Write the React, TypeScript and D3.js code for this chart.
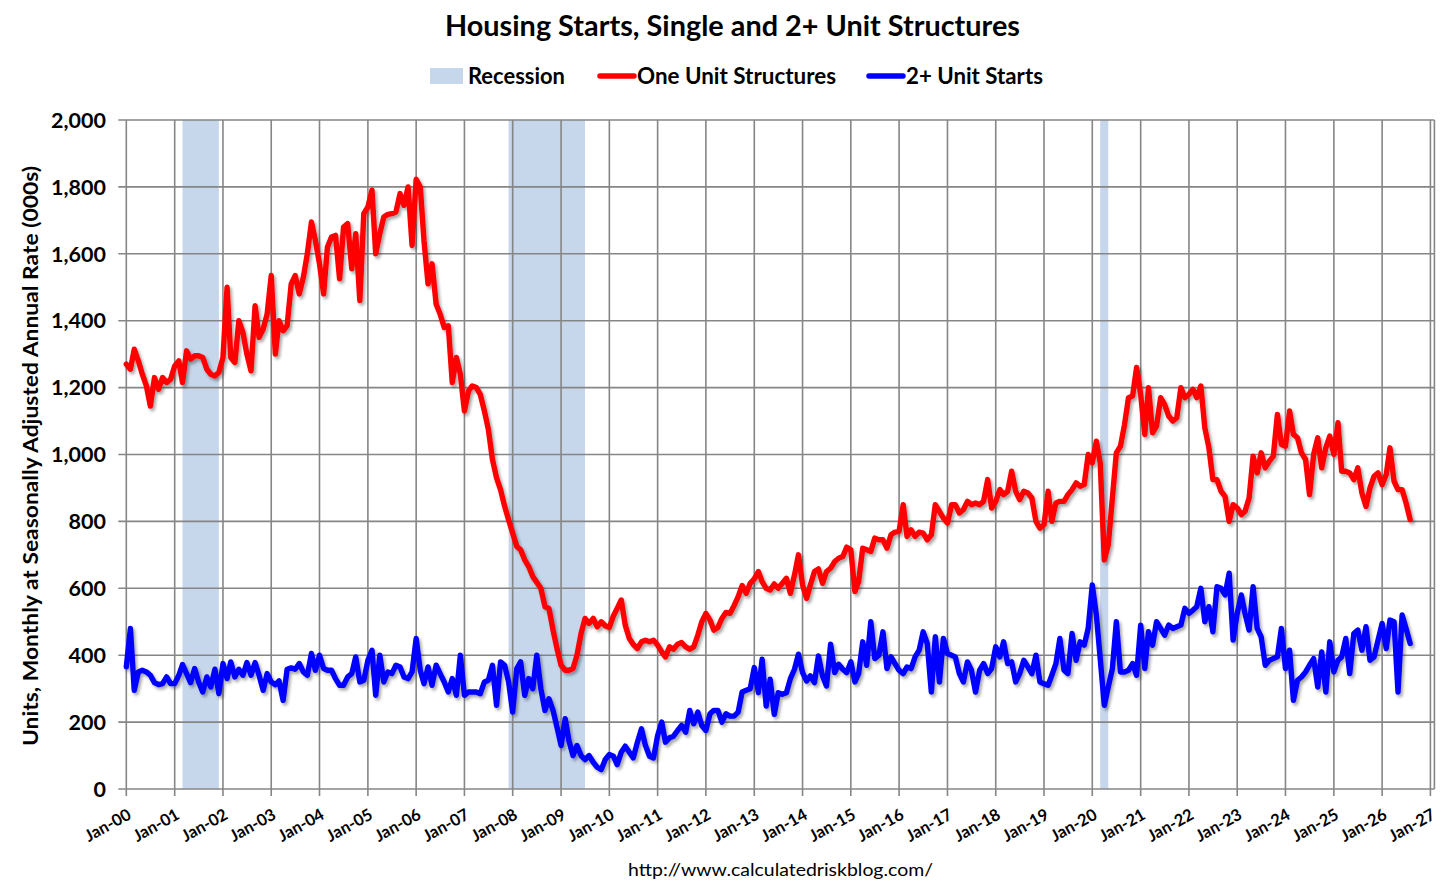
import { useEffect, useRef } from 'react';
import * as d3 from 'd3';

// Monthly, SAAR (000s), Jan 2000 onwards
const oneUnit: number[] = [
  // 2000
  1270, 1255, 1315, 1280, 1240, 1205, 1145, 1230, 1195, 1230, 1215, 1225,
  // 2001
  1265, 1280, 1215, 1310, 1285, 1295, 1295, 1290, 1255, 1240, 1235, 1245,
  // 2002
  1290, 1500, 1290, 1275, 1400, 1365, 1300, 1250, 1445, 1350, 1375, 1420,
  // 2003
  1535, 1300, 1400, 1370, 1385, 1510, 1535, 1480, 1530, 1600, 1695, 1640,
  // 2004
  1570, 1480, 1620, 1650, 1655, 1525, 1680, 1690, 1555, 1660, 1460, 1720,
  // 2005
  1740, 1790, 1600, 1660, 1710, 1718, 1720, 1725, 1780, 1745, 1800, 1625,
  // 2006
  1823, 1800, 1640, 1510, 1570, 1450, 1420, 1380, 1385, 1215, 1290, 1240,
  // 2007
  1130, 1190, 1205, 1200, 1180, 1130, 1075, 985, 930, 895, 845, 805,
  // 2008
  765, 725, 715, 685, 665, 635, 618, 600, 545, 540, 475, 420,
  // 2009
  370, 355, 355, 360, 400, 465, 510, 495, 510, 485, 500, 488,
  // 2010
  483, 518, 540, 565, 490, 450, 432, 420, 440, 445, 440, 445,
  // 2011
  430, 410, 395, 425, 418, 433, 438, 425, 418, 425, 460, 500,
  // 2012
  525, 505, 475, 483, 510, 528, 525, 548, 575, 608, 585, 615,
  // 2013
  628, 650, 620, 600, 595, 613, 600, 615, 630, 585, 640, 700,
  // 2014
  610, 570, 610, 650, 658, 615, 650, 660, 680, 690, 695, 723,
  // 2015
  715, 590, 620, 720, 715, 710, 750, 745, 745, 720, 760, 768,
  // 2016
  770, 850, 755, 775, 755, 768, 765, 745, 760, 850, 830, 810,
  // 2017
  795, 850, 850, 825, 835, 860, 850, 855, 850, 860, 925, 840,
  // 2018
  860, 895, 880, 890, 950, 890, 865, 890, 885, 870, 800, 780,
  // 2019
  790, 890, 800, 855, 860, 860, 880, 895, 915, 905, 910, 1000,
  // 2020
  975, 1040, 975, 685, 730, 870, 1005, 1025, 1090, 1170, 1175, 1260,
  // 2021
  1180, 1060, 1200, 1065, 1085, 1170, 1150, 1115, 1100, 1110, 1200, 1170,
  // 2022
  1180, 1195, 1170, 1205, 1080, 1020, 925, 925, 890, 875, 800, 850,
  // 2023
  840, 820, 830, 870, 995, 945, 1005, 960, 980, 995, 1120, 1030,
  // 2024
  1025, 1130, 1060, 1050, 1005, 985, 880, 1000, 1050, 960, 1020, 1055,
  // 2025
  1000, 1095, 950, 950, 945, 925, 960, 885, 845, 900, 935, 945,
  // 2026
  910, 940, 1020, 920, 895, 895, 855, 805,
];

const twoPlus: number[] = [
  // 2000
  365, 480, 295, 350, 355, 350, 340, 318, 312, 315, 335, 315,
  // 2001
  315, 340, 372, 345, 318, 360, 320, 290, 335, 305, 358, 285,
  // 2002
  375, 330, 380, 335, 358, 340, 378, 340, 378, 340, 295, 345,
  // 2003
  320, 312, 323, 265, 358, 362, 358, 375, 350, 340, 405, 355,
  // 2004
  400, 360, 355, 355, 330, 310, 310, 335, 345, 395, 320, 325,
  // 2005
  385, 415, 280, 400, 320, 350, 345, 370, 365, 335, 330, 350,
  // 2006
  450, 355, 315, 365, 310, 370, 345, 320, 290, 330, 280, 400,
  // 2007
  280, 290, 290, 290, 285, 320, 325, 370, 250, 380, 370, 320,
  // 2008
  230, 360, 380, 280, 330, 300, 400, 300, 235, 270, 235, 185,
  // 2009
  130, 210, 145, 100, 130, 100, 88, 100, 80, 65, 58, 88,
  // 2010
  103, 98, 73, 110, 128, 110, 93, 140, 180, 130, 98, 93,
  // 2011
  160, 200, 140, 153, 158, 175, 190, 170, 235, 195, 230, 190,
  // 2012
  175, 225, 235, 235, 200, 225, 218, 218, 230, 290, 295, 300,
  // 2013
  363, 288, 388, 248, 328, 223, 288, 283, 288, 330, 358, 403,
  // 2014
  348, 323, 338, 318, 398, 338, 308, 433, 348, 373, 358, 348,
  // 2015
  380, 320, 345, 440, 370, 500, 390, 400, 470, 360, 395, 375,
  // 2016
  355, 345, 365, 360, 395, 415, 470, 435, 290, 455, 320, 450,
  // 2017
  405, 400, 395, 345, 320, 380, 355, 290, 355, 375, 345, 360,
  // 2018
  425, 395, 440, 375, 380, 320, 345, 385, 365, 345, 400, 320,
  // 2019
  315, 310, 340, 375, 450, 355, 345, 465, 385, 440, 430, 480,
  // 2020
  610, 520, 390, 250, 305, 360, 500, 350, 350, 355, 375, 340,
  // 2021
  490, 360, 470, 430, 500, 480, 460, 490, 480, 485, 490, 540,
  // 2022
  525, 535, 545, 600, 500, 545, 470, 605, 600, 580, 645, 445,
  // 2023
  525, 580, 525, 475, 605, 480, 455, 370, 385, 390, 395, 480,
  // 2024
  360, 415, 265, 325, 335, 350, 370, 390, 305, 410, 290, 440,
  // 2025
  350, 385, 395, 450, 345, 465, 475, 415, 485, 385, 395, 445,
  // 2026
  495, 420, 505, 500, 290, 520, 480, 435,
];

// recession periods [start, end) as yyyy-mm
const recessions: [string, string][] = [
  ['2001-03', '2001-12'],
  ['2007-12', '2009-07'],
  ['2020-03', '2020-05'],
];

const yTicks = [0, 200, 400, 600, 800, 1000, 1200, 1400, 1600, 1800, 2000];
const firstYear = 2000;
const lastYear = 2027;

const FONT = 'Lato, "Open Sans", "DejaVu Sans", sans-serif';

export default function App() {
  const svgRef = useRef<SVGSVGElement>(null);

  useEffect(() => {
    document.body.style.margin = '0';
    if (!svgRef.current) return;

    const W = 1456;
    const H = 886;
    const left = 126.3;
    const right = 1430.4;
    const top = 120;
    const bottom = 789;

    const svg = d3.select(svgRef.current);
    svg.selectAll('*').remove();
    svg.attr('width', W).attr('height', H);

    const parse = d3.timeParse('%Y-%m');
    const x = d3
      .scaleTime()
      .domain([new Date(firstYear, 0, 1), new Date(lastYear, 0, 1)])
      .range([left, right]);
    const y = d3.scaleLinear().domain([0, 2000]).range([bottom, top]);

    const defs = svg.append('defs');
    const f = defs
      .append('filter')
      .attr('id', 'shadow')
      .attr('x', '-5%')
      .attr('y', '-5%')
      .attr('width', '110%')
      .attr('height', '110%');
    f.append('feDropShadow')
      .attr('dx', 2)
      .attr('dy', 2.5)
      .attr('stdDeviation', 1.4)
      .attr('flood-color', '#000')
      .attr('flood-opacity', 0.35);

    // recession bars
    svg
      .append('g')
      .selectAll('rect')
      .data(recessions)
      .enter()
      .append('rect')
      .attr('x', (d) => x(parse(d[0]) as Date))
      .attr('width', (d) => x(parse(d[1]) as Date) - x(parse(d[0]) as Date))
      .attr('y', top)
      .attr('height', bottom - top)
      .attr('fill', '#c6d6eb');

    // grid
    const years = d3.range(firstYear, lastYear + 1).map((yr) => new Date(yr, 0, 1));
    const grid = svg.append('g').attr('stroke', '#868686').attr('stroke-width', 1.6);
    grid
      .selectAll('.vg')
      .data(years)
      .enter()
      .append('line')
      .attr('x1', (d) => x(d))
      .attr('x2', (d) => x(d))
      .attr('y1', top)
      .attr('y2', bottom + 7);
    grid
      .selectAll('.hg')
      .data(yTicks)
      .enter()
      .append('line')
      .attr('x1', left - 8)
      .attr('x2', right + 4)
      .attr('y1', (d) => y(d))
      .attr('y2', (d) => y(d));
    // plot border right
    grid
      .append('line')
      .attr('x1', right + 4)
      .attr('x2', right + 4)
      .attr('y1', top)
      .attr('y2', bottom);

    // series
    const dates = oneUnit.map((_, i) => new Date(firstYear, i, 1));
    const line = d3
      .line<number>()
      .x((_, i) => x(dates[i]))
      .y((d) => y(d));

    const series = [
      { values: twoPlus, color: '#0000ff' },
      { values: oneUnit, color: '#ff0000' },
    ];
    svg
      .append('g')
      .attr('filter', 'url(#shadow)')
      .selectAll('path')
      .data(series)
      .enter()
      .append('path')
      .attr('d', (d) => line(d.values))
      .attr('fill', 'none')
      .attr('stroke', (d) => d.color)
      .attr('stroke-width', 5.4)
      .attr('stroke-linejoin', 'round')
      .attr('stroke-linecap', 'round');

    // y labels
    svg
      .append('g')
      .selectAll('text')
      .data(yTicks)
      .enter()
      .append('text')
      .attr('x', 106)
      .attr('y', (d) => y(d))
      .attr('dy', '0.36em')
      .attr('text-anchor', 'end')
      .attr('font-family', FONT)
      .attr('font-weight', 700)
      .attr('font-size', 21.5)
      .attr('fill', '#000')
      .text((d) => d3.format(',')(d));

    // x labels
    const fmt = d3.timeFormat('%b-%y');
    svg
      .append('g')
      .selectAll('text')
      .data(years)
      .enter()
      .append('text')
      .attr('transform', (d) => `translate(${x(d) + 6},${bottom + 29}) rotate(-29)`)
      .attr('text-anchor', 'end')
      .attr('font-family', FONT)
      .attr('font-weight', 700)
      .attr('font-size', 16.5)
      .attr('fill', '#000')
      .text((d) => fmt(d));

    // y title
    svg
      .append('text')
      .attr('transform', `translate(38,456) rotate(-90)`)
      .attr('text-anchor', 'middle')
      .attr('font-family', FONT)
      .attr('font-weight', 700)
      .attr('font-size', 21)
      .attr('textLength', 580)
      .attr('lengthAdjust', 'spacingAndGlyphs')
      .text('Units, Monthly at Seasonally Adjusted Annual Rate (000s)');

    // title
    svg
      .append('text')
      .attr('x', 445)
      .attr('y', 36)
      .attr('font-family', FONT)
      .attr('font-weight', 700)
      .attr('font-size', 28)
      .attr('textLength', 575)
      .attr('lengthAdjust', 'spacingAndGlyphs')
      .text('Housing Starts, Single and 2+ Unit Structures');

    // legend
    const lg = svg.append('g').attr('font-family', FONT).attr('font-weight', 700).attr('font-size', 22);
    lg.append('rect').attr('x', 430).attr('y', 68).attr('width', 33).attr('height', 16).attr('fill', '#c6d6eb');
    lg.append('text').attr('x', 468).attr('y', 84).attr('textLength', 97).attr('lengthAdjust', 'spacingAndGlyphs').text('Recession');
    lg.append('line').attr('x1', 600).attr('x2', 634).attr('y1', 76).attr('y2', 76)
      .attr('stroke', '#ff0000').attr('stroke-width', 5.5).attr('stroke-linecap', 'round');
    lg.append('text').attr('x', 637).attr('y', 84).attr('textLength', 199).attr('lengthAdjust', 'spacingAndGlyphs').text('One Unit Structures');
    lg.append('line').attr('x1', 869).attr('x2', 903).attr('y1', 76).attr('y2', 76)
      .attr('stroke', '#0000ff').attr('stroke-width', 5.5).attr('stroke-linecap', 'round');
    lg.append('text').attr('x', 906).attr('y', 84).attr('textLength', 137).attr('lengthAdjust', 'spacingAndGlyphs').text('2+ Unit Starts');

    // source
    svg
      .append('text')
      .attr('x', 628)
      .attr('y', 876)
      .attr('font-family', FONT)
      .attr('font-size', 18)
      .attr('textLength', 305)
      .attr('lengthAdjust', 'spacingAndGlyphs')
      .text('http://www.calculatedriskblog.com/');
  }, []);

  return (
    <div style={{ width: 1456, height: 886, background: '#fff' }}>
      <svg ref={svgRef} style={{ display: 'block' }} />
    </div>
  );
}
